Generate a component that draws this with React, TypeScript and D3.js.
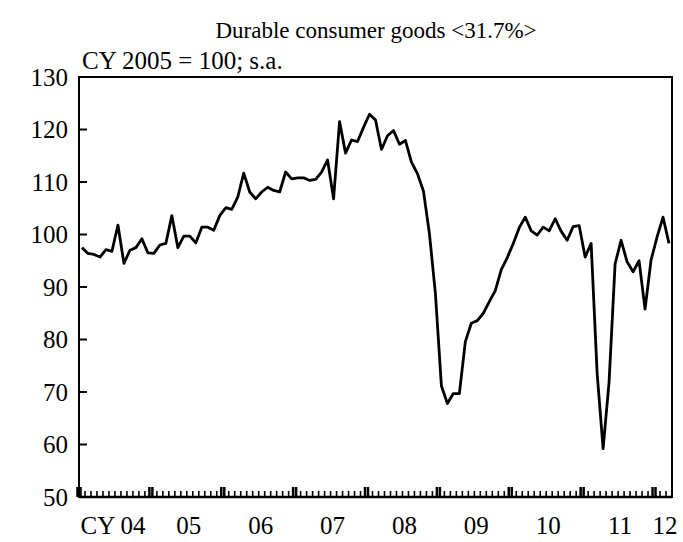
import * as d3 from "d3";

const title = "Durable consumer goods <31.7%>";
const subtitle = "CY 2005 = 100; s.a.";

// monthly index, Jan 2004 .. Mar 2012
const values2004 = [97.5, 96.4, 96.2, 95.7, 97.1, 96.8, 101.8, 94.5, 97.0, 97.5, 99.2, 96.5];
const values2005 = [96.4, 98.0, 98.3, 103.6, 97.5, 99.7, 99.7, 98.4, 101.4, 101.4, 100.8, 103.6];
const values2006 = [105.1, 104.8, 107.1, 111.7, 108.1, 106.8, 108.1, 109.0, 108.4, 108.1, 111.9, 110.6];
const values2007 = [110.8, 110.8, 110.3, 110.5, 111.9, 114.2, 106.8, 121.5, 115.5, 118.0, 117.7, 120.4];
const values2008 = [122.9, 121.8, 116.2, 118.8, 119.8, 117.2, 117.9, 113.8, 111.6, 108.3, 100.2, 88.8];
const values2009 = [71.2, 67.8, 69.7, 69.7, 79.6, 83.1, 83.6, 85.0, 87.2, 89.3, 93.3, 95.6];
const values2010 = [98.3, 101.3, 103.3, 100.7, 99.9, 101.4, 100.7, 103.0, 100.6, 98.9, 101.5, 101.7];
const values2011 = [95.7, 98.3, 73.6, 59.2, 72.0, 94.4, 98.9, 94.8, 92.9, 95.0, 85.8, 95.1];
const values2012 = [99.5, 103.3, 98.3];

const years = [2004, 2005, 2006, 2007, 2008, 2009, 2010, 2011, 2012];
const yearLabels = ["CY 04", "05", "06", "07", "08", "09", "10", "11", "12"];
const yTicks = [50, 60, 70, 80, 90, 100, 110, 120, 130];

const values = [
  ...values2004, ...values2005, ...values2006, ...values2007, ...values2008,
  ...values2009, ...values2010, ...values2011, ...values2012,
];
const months = values.map((_, i) => `${years[0] + Math.floor(i / 12)}-${(i % 12) + 1}`);

export default function App() {
  const width = 683;
  const height = 542;
  const left = 79, right = 672, top = 77, bottom = 497;
  const font = "'Liberation Serif', 'Times New Roman', serif";
  const fs = 25;

  const x = d3.scaleBand<string>().domain(months).range([left, right]);
  const y = d3.scaleLinear().domain([50, 130]).range([bottom, top]);
  const cx = (i: number) => (x(months[i]) ?? 0) + x.bandwidth() / 2;

  const line = d3
    .line<number>()
    .x((_, i) => cx(i))
    .y((d) => y(d));

  // year boundaries / label centres
  const yearStart = (k: number) => x(months[k * 12]) ?? right;
  const yearEnd = (k: number) => (k * 12 + 12 < months.length ? yearStart(k + 1) : right);

  return (
    <svg width={width} height={height} style={{ position: "absolute", left: 0, top: 0 }}>
      <rect width={width} height={height} fill="#fff" />
      <text x={376} y={38} textAnchor="middle" fontFamily={font} fontSize={23}>
        {title}
      </text>
      <text x={82} y={69} fontFamily={font} fontSize={fs}>
        {subtitle}
      </text>

      {/* y ticks + labels */}
      {yTicks.map((t) => (
        <g key={t}>
          <line x1={left} x2={left + 8} y1={y(t)} y2={y(t)} stroke="#000" strokeWidth={2} />
          <text x={68} y={y(t)} dy="0.35em" textAnchor="end" fontFamily={font} fontSize={fs}>
            {t}
          </text>
        </g>
      ))}

      {/* monthly ticks */}
      {months.map((m, i) =>
        i % 12 === 0 ? (
          <g key={m}>
            <line x1={(x(m) ?? 0) - 1.5} x2={(x(m) ?? 0) - 1.5} y1={bottom} y2={bottom - 10} stroke="#000" strokeWidth={2.5} />
            <line x1={(x(m) ?? 0) + 1.5} x2={(x(m) ?? 0) + 1.5} y1={bottom} y2={bottom - 10} stroke="#000" strokeWidth={2.5} />
          </g>
        ) : (
          <line key={m} x1={x(m) ?? 0} x2={x(m) ?? 0} y1={bottom} y2={bottom - 6} stroke="#000" strokeWidth={1.6} />
        )
      )}

      {/* year labels */}
      {years.map((yr, k) => (
        <text
          key={yr}
          x={k === 0 ? 113 : (yearStart(k) + yearEnd(k)) / 2 + 2}
          y={534}
          textAnchor="middle"
          fontFamily={font}
          fontSize={fs}
        >
          {yearLabels[k]}
        </text>
      ))}

      <path d={line(values) ?? ""} fill="none" stroke="#000" strokeWidth={2.8} strokeLinejoin="round" />

      <rect x={left} y={top} width={right - left} height={bottom - top} fill="none" stroke="#000" strokeWidth={2} />
      <line x1={left} x2={right} y1={bottom} y2={bottom} stroke="#000" strokeWidth={2.5} />
    </svg>
  );
}
